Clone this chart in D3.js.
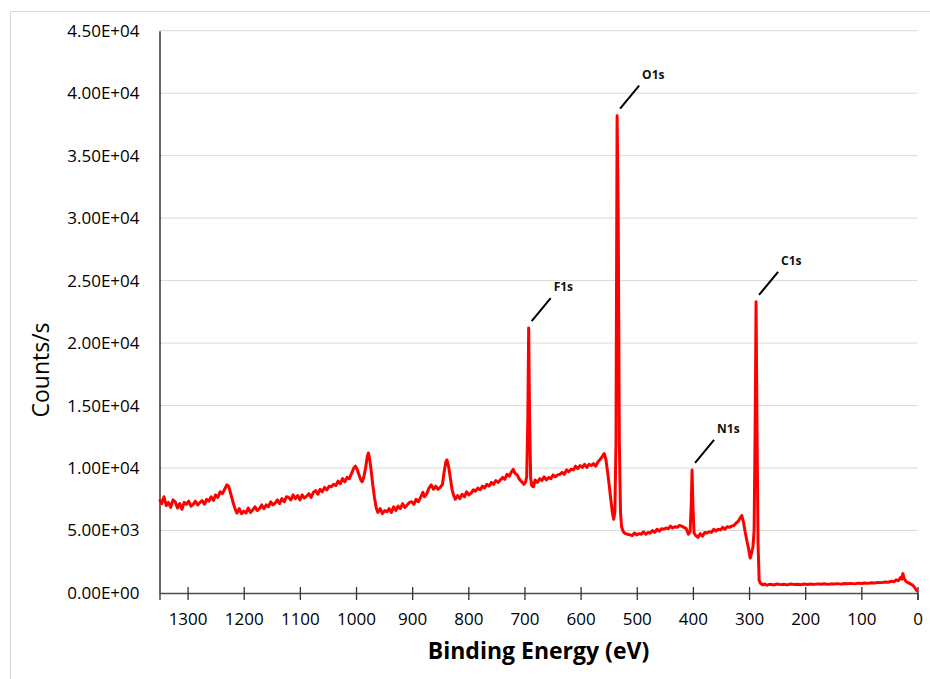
<!DOCTYPE html>
<html>
<head>
<meta charset="utf-8">
<script src="https://cdn.jsdelivr.net/npm/d3@7"></script>
<style>
  body { margin: 0; background: #fff; }
  svg { display: block; font-family: "Open Sans", "Liberation Sans", sans-serif; }
</style>
</head>
<body>
<svg id="chart"></svg>
<script>
// XPS survey spectrum
const bindingEnergy = [
  1350, 1346, 1342, 1338, 1334, 1330, 1326, 1322, 1318, 1314, 1310, 1306, 1302, 1298, 1294, 1290,
  1286, 1282, 1278, 1274, 1270, 1266, 1262, 1258, 1254, 1250, 1246, 1242, 1238, 1234, 1230, 1227,
  1224, 1221, 1218, 1215, 1212, 1208, 1204, 1200, 1196, 1192, 1188, 1184, 1180, 1176, 1172, 1168,
  1164, 1160, 1156, 1152, 1148, 1144, 1140, 1136, 1132, 1128, 1124, 1120, 1116, 1112, 1108, 1104,
  1100, 1096, 1092, 1088, 1084, 1080, 1076, 1072, 1068, 1064, 1060, 1056, 1052, 1048, 1044, 1040,
  1036, 1032, 1028, 1024, 1020, 1016, 1012, 1008, 1004, 1001, 998, 995, 992, 989, 986, 983,
  980, 978, 976, 973, 970, 967, 964, 961, 957, 953, 949, 945, 941, 937, 933, 929,
  925, 921, 917, 913, 909, 905, 901, 897, 893, 889, 885, 881, 878, 874, 870, 866,
  862, 858, 854, 850, 846, 843, 840, 838, 835, 832, 829, 826, 823, 819, 815, 811,
  807, 803, 799, 795, 791, 787, 783, 779, 775, 771, 767, 763, 759, 755, 751, 747,
  743, 739, 735, 731, 727, 723, 720, 717, 713, 709, 705, 701, 698, 696, 694, 692.5,
  691, 689, 687, 684, 681, 677, 673, 669, 665, 661, 657, 653, 649, 645, 641, 637,
  633, 629, 625, 621, 617, 613, 609, 605, 601, 597, 593, 589, 585, 581, 577, 573,
  569, 565, 561, 558, 555, 552, 549, 546, 543, 541, 539, 537, 535, 533, 531, 529,
  527, 524, 520, 516, 512, 508, 504, 500, 496, 492, 488, 484, 480, 476, 472, 468,
  464, 460, 456, 452, 448, 444, 440, 436, 432, 428, 424, 420, 416, 412, 408, 405,
  403, 401.5, 400, 398, 395, 391, 387, 383, 379, 375, 371, 367, 363, 359, 355, 351,
  347, 343, 339, 335, 331, 327, 323, 319, 316, 313, 310, 307, 304, 301, 298, 296,
  293, 291, 289, 287.5, 286, 284, 282, 280, 276, 272, 268, 264, 260, 256, 250, 244,
  238, 232, 226, 220, 214, 208, 202, 196, 190, 184, 178, 172, 166, 160, 154, 148,
  142, 136, 130, 124, 118, 112, 106, 100, 94, 88, 82, 76, 70, 64, 58, 52,
  46, 42, 38, 34, 30, 28, 26, 24, 21, 18, 15, 12, 9, 6, 3, 0
];

const counts = [
  7500, 7150, 7700, 7000, 7250, 6850, 7450, 7300, 6800, 7150, 6700, 7250, 7100, 7350, 6950, 7100,
  7350, 7050, 7250, 7400, 7100, 7500, 7350, 7700, 7400, 7850, 7650, 8100, 7950, 8300, 8650, 8550,
  8100, 7600, 7100, 6700, 6400, 6750, 6350, 6550, 6400, 6800, 6450, 6650, 6900, 6600, 6750, 7050,
  6750, 7050, 6900, 7300, 7050, 7200, 7450, 7150, 7550, 7300, 7700, 7650, 7450, 7850, 7550, 7800,
  7450, 7850, 7600, 7750, 7950, 7650, 8050, 8200, 7900, 8300, 8100, 8450, 8250, 8550, 8500, 8700,
  8600, 8950, 8750, 9150, 8900, 9250, 9150, 9550, 10000, 10150, 9900, 9500, 9100, 8900, 9300, 10000,
  10900, 11200, 10800, 9800, 8600, 7600, 6800, 6450, 6750, 6350, 6600, 6500, 6750, 6450, 6900, 6600,
  6950, 6750, 7150, 6850, 7050, 7250, 7300, 7100, 7500, 7300, 7650, 8050, 7700, 7950, 8400, 8650,
  8300, 8550, 8300, 8450, 8700, 9700, 10500, 10650, 10100, 9200, 8300, 7800, 7500, 7800, 7550, 7900,
  7700, 8100, 7850, 8000, 8250, 8150, 8400, 8250, 8550, 8400, 8700, 8550, 8850, 8700, 9000, 8850,
  9050, 9250, 9100, 9500, 9350, 9700, 9900, 9600, 9450, 9100, 8900, 8700, 8900, 9300, 14000, 21200,
  14500, 9200, 8600, 8500, 9050, 8850, 9150, 9000, 9300, 9050, 9250, 9150, 9450, 9300, 9450, 9500,
  9650, 9500, 9850, 9700, 9900, 9850, 10150, 9950, 10200, 10050, 10300, 10050, 10300, 10200, 10350, 10150,
  10500, 10700, 10950, 11150, 10700, 9700, 8600, 7400, 6300, 5900, 6500, 12000, 38200, 30000, 12000, 6500,
  5300, 4900, 4750, 4700, 4650, 4600, 4800, 4650, 4750, 4700, 4900, 4700, 4850, 4800, 5000, 4850,
  5100, 4950, 5150, 5100, 5200, 5150, 5350, 5200, 5300, 5250, 5400, 5350, 5250, 5150, 4700, 4900,
  7000, 9850, 7000, 4800, 4600, 4450, 4750, 4550, 4850, 4800, 4900, 4850, 5100, 4950, 5100, 5050,
  5250, 5100, 5300, 5250, 5350, 5400, 5600, 5750, 6000, 6200, 5700, 4900, 4200, 3600, 2800, 3100,
  3700, 5000, 14000, 23300, 14000, 4000, 1000, 800, 650, 720, 620, 700, 680, 640, 720, 670,
  700, 650, 720, 690, 700, 660, 720, 680, 720, 690, 730, 700, 740, 690, 720, 730,
  750, 710, 760, 740, 770, 730, 790, 760, 800, 770, 820, 800, 850, 830, 880, 860,
  950, 900, 1050, 980, 1250, 1100, 1550, 1200, 950, 850, 800, 700, 650, 500, 300, 100
];

const xTicks = [1300, 1200, 1100, 1000, 900, 800, 700, 600, 500, 400, 300, 200, 100, 0];
const yTicks = [0, 5000, 10000, 15000, 20000, 25000, 30000, 35000, 40000, 45000];

const peakNames = ["F1s", "O1s", "N1s", "C1s"];
const peakEnergy = [692.5, 535, 401.5, 287.5];
const peakCounts = [21200, 38200, 9850, 23300];

/** ---------------------------------------------------------------- */

const width = 930;
const height = 679;
const plotLeft = 159.5;
const plotRight = 917.5;
const plotTop = 30.7;
const plotBottom = 593;

const svg = d3.select("#chart")
    .attr("width", width)
    .attr("height", height);

// light outer frame of the chart area
svg.append("rect")
    .attr("x", 10.5)
    .attr("y", 11.5)
    .attr("width", width)
    .attr("height", height)
    .attr("fill", "none")
    .attr("stroke", "#d9d9d9");

const x = d3.scaleLinear()
    .domain([1350, 0])
    .range([plotLeft, plotRight]);

const y = d3.scaleLinear()
    .domain([0, 45000])
    .range([plotBottom, plotTop]);

// horizontal gridlines
svg.append("g")
    .selectAll("line")
    .data(yTicks.slice(1))
    .join("line")
    .attr("x1", plotLeft)
    .attr("x2", plotRight)
    .attr("y1", d => y(d))
    .attr("y2", d => y(d))
    .attr("stroke", "#d9d9d9")
    .attr("stroke-width", 1);

// y axis: line only, labels in scientific notation
const yAxis = svg.append("g")
    .attr("transform", `translate(${plotLeft},0)`)
    .call(d3.axisLeft(y)
        .tickValues(yTicks)
        .tickSize(0)
        .tickPadding(20)
        .tickFormat(d => d.toExponential(2).toUpperCase().replace(/E([+-])(\d)$/, "E$10$2")));
yAxis.select(".domain").attr("stroke", "#000").attr("stroke-width", 1.2);
yAxis.selectAll("text")
    .attr("font-size", 17)
    .attr("fill", "#000")
    .attr("font-family", "Open Sans");

// x axis with ticks crossing the line
const xAxis = svg.append("g")
    .attr("transform", `translate(0,${plotBottom})`)
    .call(d3.axisBottom(x)
        .tickValues(xTicks)
        .tickFormat(d3.format("d"))
        .tickSizeOuter(0)
        .tickSize(7)
        .tickPadding(13));
xAxis.select(".domain").attr("stroke", "#4d4d4d").attr("stroke-width", 1.5);
xAxis.selectAll(".tick line")
    .attr("y1", -6)
    .attr("stroke", "#333")
    .attr("stroke-width", 1.3);
xAxis.selectAll("text")
    .attr("font-size", 17)
    .attr("fill", "#000")
    .attr("font-family", "Open Sans");

// spectrum
const spectrum = bindingEnergy.map((e, i) => [e, counts[i]]);
const line = d3.line()
    .curve(d3.curveLinear)
    .x(d => x(d[0]))
    .y(d => y(d[1]));

svg.append("path")
    .datum(spectrum)
    .attr("d", line)
    .attr("fill", "none")
    .attr("stroke", "#ff0000")
    .attr("stroke-width", 3)
    .attr("stroke-linejoin", "round");

// peak labels with leader lines
const peaks = peakNames.map((name, i) => ({ name, e: peakEnergy[i], c: peakCounts[i] }));
const labels = svg.append("g").selectAll("g")
    .data(peaks)
    .join("g")
    .attr("transform", d => `translate(${x(d.e) + 3},${y(d.c) - 7})`);

labels.append("line")
    .attr("x1", 0).attr("y1", 0)
    .attr("x2", 19).attr("y2", -23)
    .attr("stroke", "#000")
    .attr("stroke-width", 2);

labels.append("text")
    .attr("x", 22)
    .attr("y", -30)
    .attr("font-size", 12)
    .attr("font-weight", "bold")
    .attr("fill", "#111")
    .text(d => d.name);

// axis titles
svg.append("text")
    .attr("x", (plotLeft + plotRight) / 2)
    .attr("y", 659)
    .attr("text-anchor", "middle")
    .attr("font-size", 23)
    .attr("font-weight", "bold")
    .attr("fill", "#000")
    .text("Binding Energy (eV)");

svg.append("text")
    .attr("transform", "translate(49,370) rotate(-90)")
    .attr("text-anchor", "middle")
    .attr("font-size", 23)
    .attr("fill", "#000")
    .text("Counts/s");
</script>
</body>
</html>
